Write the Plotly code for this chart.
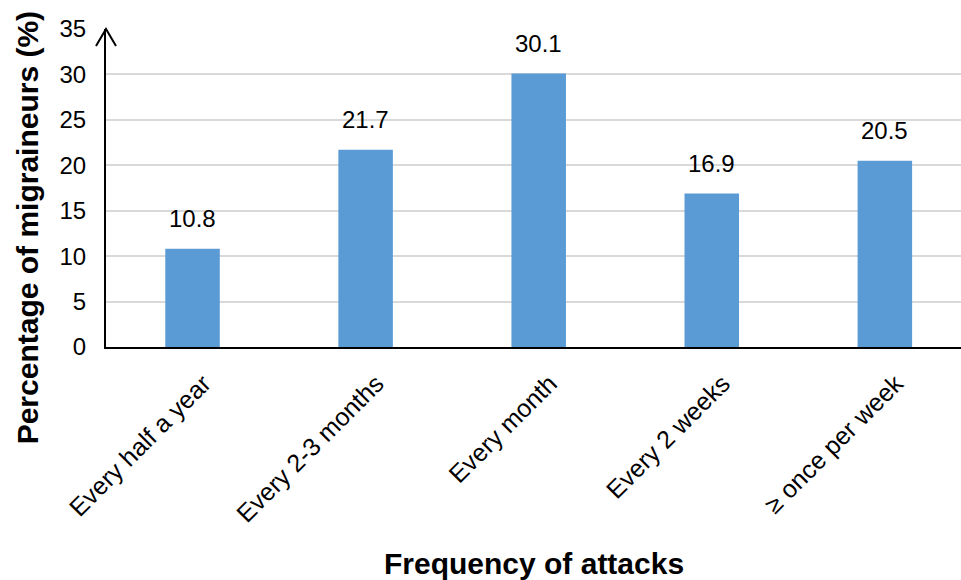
import plotly.graph_objects as go

categories = ["Every half a year", "Every 2-3 months", "Every month", "Every 2 weeks", "\u2265 once per week"]
percentages = [10.8, 21.7, 30.1, 16.9, 20.5]
y_ticks = [0, 5, 10, 15, 20, 25, 30, 35]

FONT = "Liberation Sans, Arial, Helvetica, sans-serif"
BAR_COLOR = "#5B9BD5"

fig = go.Figure()
fig.add_trace(go.Bar(
    x=categories,
    y=percentages,
    marker=dict(color=BAR_COLOR, line=dict(width=0)),
    width=0.315,
    hoverinfo="x+y",
))

# value labels above each bar
for cat, val in zip(categories, percentages):
    fig.add_annotation(
        x=cat, y=val, text=f"{val:.1f}", showarrow=False,
        yshift=30, font=dict(family=FONT, size=24, color="#000000"),
    )

# open arrowhead at the top of the y axis
fig.add_shape(
    type="path", xref="paper", yref="paper",
    xsizemode="pixel", ysizemode="pixel",
    xanchor=0, yanchor=1,
    path="M -10,-17 L 0,0 L 10,-17",
    line=dict(color="#000000", width=2),
)

fig.add_annotation(
    text="<b>Percentage of migraineurs (%)</b>", xref="paper", yref="paper",
    x=-0.092, y=0.5, xanchor="center", yanchor="middle", textangle=-90,
    showarrow=False, yshift=-40, font=dict(family=FONT, size=30, color="#000000"),
)
fig.add_annotation(
    text="<b>Frequency of attacks</b>", xref="paper", yref="paper",
    x=0.5, y=0, xanchor="center", yanchor="middle", yshift=-216,
    showarrow=False, font=dict(family=FONT, size=30, color="#000000"),
)

fig.update_layout(
    width=961, height=580,
    margin=dict(l=106, r=0, t=29, b=233),
    paper_bgcolor="white", plot_bgcolor="white",
    showlegend=False,
    font=dict(family=FONT, color="#000000"),
    xaxis=dict(
        range=[-0.5, 4.44],
        tickangle=-45,
        tickfont=dict(family=FONT, size=25, color="#000000"),
        showline=True, linecolor="#000000", linewidth=2,
        showgrid=False, ticks="",
        ticklabelshift=11, ticklabelstandoff=10,
    ),
    yaxis=dict(
        range=[0, 35],
        tickvals=y_ticks,
        tickfont=dict(family=FONT, size=24, color="#000000"),
        showline=True, linecolor="#000000", linewidth=2,
        showgrid=True, gridcolor="#d9d9d9", gridwidth=2,
        zeroline=False, ticks="outside", ticklen=13, tickcolor="rgba(0,0,0,0)",
    ),
)

fig.write_html("out.html")
